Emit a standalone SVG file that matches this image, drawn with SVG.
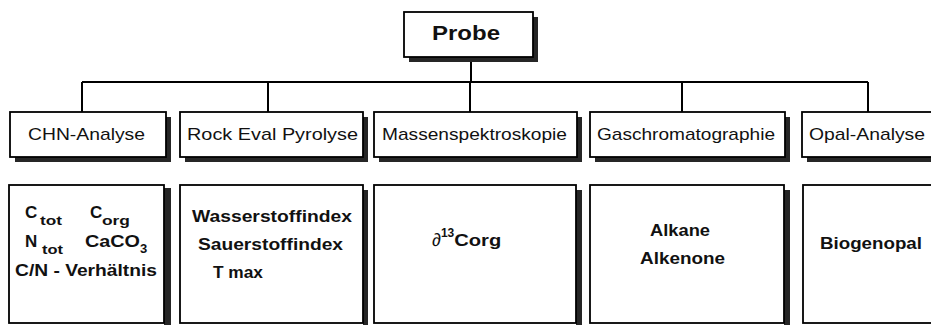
<svg xmlns="http://www.w3.org/2000/svg" width="931" height="325" viewBox="0 0 931 325">
  <style>
    .box { fill: #ffffff; stroke: #000000; stroke-width: 1.8; }
    .shadow { fill: #262626; }
    .link { fill: none; stroke: #000000; stroke-width: 2; }
    .head { font-family: "Liberation Sans", Arial, Helvetica, sans-serif; font-size: 17px; fill: #111111; }
    .title { font-family: "Liberation Sans", Arial, Helvetica, sans-serif; font-size: 21px; font-weight: bold; fill: #111111; }
    .item { font-family: "Liberation Sans", Arial, Helvetica, sans-serif; font-size: 17px; font-weight: bold; fill: #111111; }
    .sub { font-family: "Liberation Sans", Arial, Helvetica, sans-serif; font-size: 13px; font-weight: bold; fill: #111111; }
  </style>

  <!-- tree connectors -->
  <g id="connectors">
    <path class="link" d="M471 62 V82"/>
    <path class="link" d="M82 82 H868"/>
    <path class="link" d="M82 82 V112 M268 82 V112 M470 82 V112 M682 82 V112 M868 82 V112"/>
  </g>

  <!-- root -->
  <g id="probe">
    <rect class="shadow" x="409" y="17" width="129" height="45"/>
    <rect class="box" x="404" y="12" width="129" height="45"/>
    <text class="title" x="432" y="40" textLength="68" lengthAdjust="spacingAndGlyphs">Probe</text>
  </g>

  <!-- method headers -->
  <g id="chn-analyse">
    <rect class="shadow" x="15" y="117" width="156" height="45"/>
    <rect class="box" x="10" y="112" width="156" height="45"/>
    <text class="head" x="28" y="140" textLength="117" lengthAdjust="spacingAndGlyphs">CHN-Analyse</text>
  </g>
  <g id="rock-eval">
    <rect class="shadow" x="185" y="117" width="183" height="45"/>
    <rect class="box" x="180" y="112" width="183" height="45"/>
    <text class="head" x="187" y="140" textLength="171" lengthAdjust="spacingAndGlyphs">Rock Eval Pyrolyse</text>
  </g>
  <g id="massenspektroskopie">
    <rect class="shadow" x="379" y="117" width="203" height="45"/>
    <rect class="box" x="374" y="112" width="203" height="45"/>
    <text class="head" x="382" y="140" textLength="185" lengthAdjust="spacingAndGlyphs">Massenspektroskopie</text>
  </g>
  <g id="gaschromatographie">
    <rect class="shadow" x="595" y="117" width="195" height="45"/>
    <rect class="box" x="590" y="112" width="195" height="45"/>
    <text class="head" x="597" y="140" textLength="178" lengthAdjust="spacingAndGlyphs">Gaschromatographie</text>
  </g>
  <g id="opal-analyse">
    <rect class="shadow" x="807" y="117" width="160" height="45"/>
    <rect class="box" x="802" y="112" width="160" height="45"/>
    <text class="head" x="809" y="140" textLength="116" lengthAdjust="spacingAndGlyphs">Opal-Analyse</text>
  </g>

  <!-- result boxes -->
  <g id="chn-results">
    <rect class="shadow" x="164" y="188" width="7" height="137"/>
    <rect class="box" x="9" y="185" width="155" height="138"/>
    <text class="item" x="25" y="218">C</text>
    <text class="sub" x="40" y="225" textLength="22" lengthAdjust="spacingAndGlyphs">tot</text>
    <text class="item" x="90" y="218">C</text>
    <text class="sub" x="102" y="225" textLength="28" lengthAdjust="spacingAndGlyphs">org</text>
    <text class="item" x="25" y="247">N</text>
    <text class="sub" x="42" y="254" textLength="21" lengthAdjust="spacingAndGlyphs">tot</text>
    <text class="item" x="85" y="247" textLength="55" lengthAdjust="spacingAndGlyphs">CaCO</text>
    <text class="sub" x="140" y="253">3</text>
    <text class="item" x="15" y="276" textLength="142" lengthAdjust="spacingAndGlyphs">C/N - Verhältnis</text>
  </g>
  <g id="rock-eval-results">
    <rect class="shadow" x="363" y="190" width="5" height="135"/>
    <rect class="box" x="180" y="185" width="183" height="138"/>
    <text class="item" x="192" y="222" textLength="160" lengthAdjust="spacingAndGlyphs">Wasserstoffindex</text>
    <text class="item" x="198" y="250" textLength="145" lengthAdjust="spacingAndGlyphs">Sauerstoffindex</text>
    <text class="item" x="213" y="278" textLength="50" lengthAdjust="spacingAndGlyphs">T max</text>
  </g>
  <g id="massenspektroskopie-results">
    <rect class="shadow" x="576" y="190" width="6" height="135"/>
    <rect class="box" x="374" y="185" width="202" height="138"/>
    <text class="item" x="432" y="246"><tspan font-weight="normal" font-size="18">∂</tspan><tspan font-size="12" dy="-9">13</tspan><tspan dy="9" textLength="47" lengthAdjust="spacingAndGlyphs">Corg</tspan></text>
  </g>
  <g id="gaschromatographie-results">
    <rect class="shadow" x="784" y="190" width="6" height="135"/>
    <rect class="box" x="590" y="185" width="194" height="138"/>
    <text class="item" x="650" y="236" textLength="60" lengthAdjust="spacingAndGlyphs">Alkane</text>
    <text class="item" x="640" y="264" textLength="85" lengthAdjust="spacingAndGlyphs">Alkenone</text>
  </g>
  <g id="opal-results">
    <rect class="box" x="803" y="185" width="160" height="138"/>
    <text class="item" x="820" y="249" textLength="102" lengthAdjust="spacingAndGlyphs">Biogenopal</text>
  </g>
</svg>
